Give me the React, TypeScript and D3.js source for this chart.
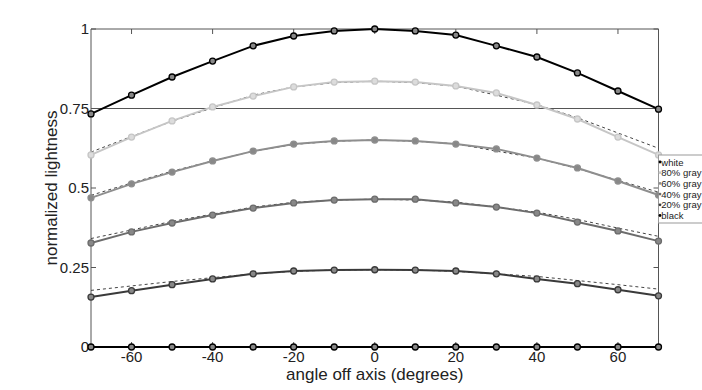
import React, { useEffect, useRef } from "react";
import * as d3 from "d3";

const angles = [-70, -60, -50, -40, -30, -20, -10, 0, 10, 20, 30, 40, 50, 60, 70];

const seriesNames = ["white", "80% gray", "60% gray", "40% gray", "20% gray", "black"];
const lineColors = ["#000000", "#c6c6c6", "#8e8e8e", "#6c6c6c", "#3a3a3a", "#000000"];

const whiteVals = [0.733, 0.792, 0.849, 0.899, 0.947, 0.978, 0.994, 1, 0.994, 0.981, 0.947, 0.912, 0.862, 0.805, 0.748];
const gray80Vals = [0.604, 0.66, 0.711, 0.755, 0.789, 0.818, 0.833, 0.836, 0.833, 0.821, 0.799, 0.761, 0.717, 0.66, 0.604];
const gray60Vals = [0.469, 0.513, 0.55, 0.585, 0.616, 0.638, 0.648, 0.651, 0.648, 0.638, 0.623, 0.594, 0.563, 0.522, 0.478];
const gray40Vals = [0.327, 0.362, 0.39, 0.415, 0.437, 0.453, 0.462, 0.465, 0.465, 0.453, 0.44, 0.421, 0.393, 0.365, 0.333];
const gray20Vals = [0.157, 0.177, 0.196, 0.214, 0.23, 0.239, 0.242, 0.243, 0.242, 0.239, 0.23, 0.214, 0.199, 0.18, 0.161];
const blackVals = [0, 0, 0, 0, 0, 0, 0, 0, 0, 0, 0, 0, 0, 0, 0];

// dashed reference curves
const ref80 = [0.613, 0.662, 0.71, 0.752, 0.792, 0.818, 0.831, 0.836, 0.831, 0.82, 0.792, 0.762, 0.721, 0.673, 0.625];
const ref60 = [0.477, 0.516, 0.553, 0.585, 0.616, 0.637, 0.647, 0.651, 0.647, 0.639, 0.616, 0.594, 0.561, 0.524, 0.487];
const ref40 = [0.341, 0.368, 0.395, 0.418, 0.44, 0.455, 0.462, 0.465, 0.462, 0.456, 0.44, 0.424, 0.401, 0.374, 0.348];
const ref20 = [0.178, 0.192, 0.206, 0.218, 0.23, 0.238, 0.242, 0.243, 0.242, 0.238, 0.23, 0.222, 0.209, 0.196, 0.182];

const xTicks = [-60, -40, -20, 0, 20, 40, 60];
const yTicks = [0, 0.25, 0.5, 0.75, 1];
const yTickLabels = ["0", "0.25", "0.5", "0.75", "1"];

export default function App() {
  const ref = useRef<SVGSVGElement>(null);

  useEffect(() => {
    const svg = d3.select(ref.current);
    svg.selectAll("*").remove();
    const left = 91, right = 658.5, top = 29, bottom = 347;
    const font = "'Liberation Sans', Arial, sans-serif";

    const x = d3.scaleLinear().domain([-70, 70]).range([left, right]);
    const y = d3.scaleLinear().domain([0, 1]).range([bottom, top]);

    const frame = svg.append("g").attr("stroke", "#555").attr("stroke-width", 1).attr("fill", "none");
    frame.append("path").attr("d", `M${left},${bottom}V${top}H${right}V${bottom}`);
    frame.append("line").attr("x1", left).attr("x2", right).attr("y1", y(0.75)).attr("y2", y(0.75));

    // ticks (inward)
    xTicks.forEach((t) => {
      frame.append("line").attr("x1", x(t)).attr("x2", x(t)).attr("y1", top).attr("y2", top + 5);
      frame.append("line").attr("x1", x(t)).attr("x2", x(t)).attr("y1", bottom).attr("y2", bottom - 5);
    });
    yTicks.forEach((t) => {
      frame.append("line").attr("x1", left).attr("x2", left + 5).attr("y1", y(t)).attr("y2", y(t));
      frame.append("line").attr("x1", right).attr("x2", right - 5).attr("y1", y(t)).attr("y2", y(t));
    });

    const labels = svg.append("g").attr("font-family", font).attr("fill", "#222");
    xTicks.forEach((t) => {
      labels.append("text").attr("x", x(t)).attr("y", 362).attr("text-anchor", "middle").attr("font-size", 15).text(String(t));
    });
    yTicks.forEach((t, i) => {
      labels.append("text").attr("x", left - 2).attr("y", y(t) + 5).attr("text-anchor", "end").attr("font-size", 15).text(yTickLabels[i]);
    });
    labels.append("text").attr("x", x(0)).attr("y", 380).attr("text-anchor", "middle").attr("font-size", 17).text("angle off axis (degrees)");
    labels.append("text").attr("transform", `translate(57,${y(0.5)}) rotate(-90)`).attr("text-anchor", "middle").attr("font-size", 17).text("normalized lightness");

    const line = d3.line<number>().x((_, i) => x(angles[i])).y((d) => y(d));

    const refs = [ref80, ref60, ref40, ref20];
    refs.forEach((r) => {
      svg.append("path").attr("d", line(r)).attr("fill", "none").attr("stroke", "#444").attr("stroke-width", 1).attr("stroke-dasharray", "3,3");
    });

    const all = [whiteVals, gray80Vals, gray60Vals, gray40Vals, gray20Vals, blackVals];
    all.forEach((vals, si) => {
      const c = lineColors[si];
      svg.append("path").attr("d", line(vals)).attr("fill", "none").attr("stroke", c).attr("stroke-width", 2);
      svg.append("g").selectAll("circle").data(vals).join("circle")
        .attr("cx", (_, i) => x(angles[i])).attr("cy", (d) => y(d)).attr("r", 3)
        .attr("fill", si === 1 ? "#dcdcdc" : "#888").attr("stroke", c).attr("stroke-width", 1.3);
    });

    // legend
    const lg = svg.append("g").attr("font-family", font);
    lg.append("rect").attr("x", 658.5).attr("y", 155).attr("width", 50).attr("height", 68).attr("fill", "#fff").attr("stroke", "#999");
    seriesNames.forEach((n, i) => {
      const yy = 162 + i * 10.7;
      lg.append("circle").attr("cx", 660).attr("cy", yy).attr("r", 1.4).attr("fill", lineColors[i]);
      lg.append("text").attr("x", 661.3).attr("y", yy + 3.5).attr("font-size", 9.5).attr("fill", "#222").text(n);
    });
  }, []);

  return <svg ref={ref} width={702} height={390} style={{ position: "absolute", left: 0, top: 0, background: "#fff" }} />;
}
